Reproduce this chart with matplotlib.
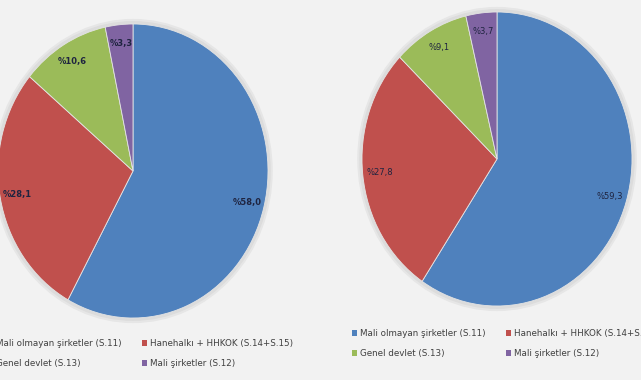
"""Two pie charts: sector shares, with legends below."""

import matplotlib.pyplot as plt
from matplotlib.patches import Patch

categories = [
    "Mali olmayan şirketler (S.11)",
    "Hanehalkı + HHKOK (S.14+S.15)",
    "Genel devlet (S.13)",
    "Mali şirketler (S.12)",
]
left_values = [58.0, 28.1, 10.6, 3.3]
right_values = [59.3, 27.8, 9.1, 3.7]
colors = ["#4F81BD", "#C0504D", "#9BBB59", "#8064A2"]

BG = "#F2F2F2"
W, H = 641, 380


def fmt(v):
    return "%" + f"{v:.1f}".replace(".", ",")


def draw_pie(cx, cy, rx, ry, values, bold):
    # cx, cy in image pixels (top-down); ellipse because the source is stretched
    ax = fig.add_axes([(cx - rx) / W, (H - cy - ry) / H, 2 * rx / W, 2 * ry / H])
    ax.set_facecolor("none")
    # soft halo around the pie
    for r, c in [(1.03, "#E6E6E6"), (1.015, "#DCDCDC")]:
        ax.add_patch(plt.Circle((0, 0), r, color=c, zorder=0, clip_on=False))
    labels = iter(fmt(v) for v in values)
    ax.pie(
        values,
        colors=colors,
        startangle=90,
        counterclock=False,
        autopct=lambda p: next(labels),
        pctdistance=0.87,
        wedgeprops={"edgecolor": "#E4E4E4", "linewidth": 0.6},
        textprops={"fontsize": 6, "color": "#1F2440",
                   "fontweight": "bold" if bold else "normal"},
    )
    ax.set_aspect("auto")
    ax.set_xlim(-1, 1)
    ax.set_ylim(-1, 1)
    ax.axis("off")
    return ax


def draw_legend(x, y):
    handles = [Patch(facecolor=c, edgecolor="none") for c in colors]
    order = [0, 2, 1, 3]
    fig.legend(
        [handles[i] for i in order],
        [categories[i] for i in order],
        ncol=2,
        loc="upper left",
        bbox_to_anchor=(x / W, 1 - y / H),
        frameon=False,
        fontsize=6.3,
        labelcolor="#404040",
        handlelength=0.6,
        handleheight=0.6,
        handletextpad=0.3,
        labelspacing=1.25,
        columnspacing=2.3,
        borderpad=0,
        borderaxespad=0,
    )


fig = plt.figure(figsize=(W / 100, H / 100), dpi=100, facecolor=BG)

draw_pie(133, 171, 135, 147, left_values, bold=True)
draw_pie(497, 159, 135, 147, right_values, bold=False)

draw_legend(-12, 339)
draw_legend(352, 329)

fig.savefig("out.png", dpi=100, facecolor=BG)
